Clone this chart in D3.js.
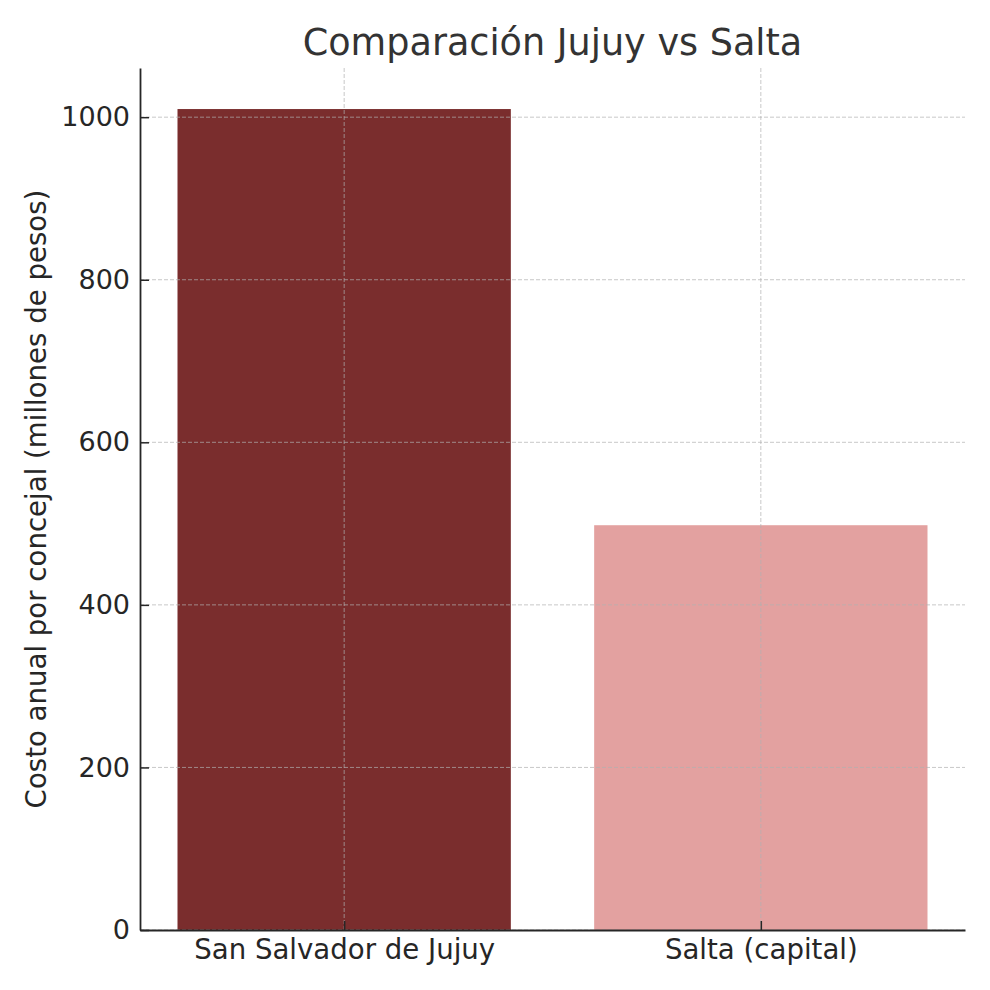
<!DOCTYPE html>
<html>
<head>
<meta charset="utf-8">
<script src="https://cdn.jsdelivr.net/npm/d3@7/dist/d3.min.js"></script>
<style>
  body { margin: 0; background: #fff; }
  svg { font-family: "DejaVu Sans", sans-serif; }
</style>
</head>
<body>
<svg id="chart" width="990" height="990"></svg>
<script>
var categories = ['San Salvador de Jujuy', 'Salta (capital)'];
var values = [1010, 498];
var colors = ['#7a2d2d', '#e3a1a0'];
var yTicks = [0, 200, 400, 600, 800, 1000];

var margin = {top: 68, right: 25, bottom: 60, left: 140};
var width = 990 - margin.left - margin.right;
var height = 990 - margin.top - margin.bottom;

var svg = d3.select('#chart');
var g = svg.append('g').attr('transform', 'translate(' + margin.left + ',' + margin.top + ')');

// matplotlib-like: bar width 0.8, 5% margins
var x = d3.scaleLinear().domain([-0.49, 1.49]).range([0, width]);
var y = d3.scaleLinear().domain([0, d3.max(values) * 1.05]).range([height, 0]);

// bars
g.selectAll('rect.bar')
  .data(values)
  .enter().append('rect')
  .attr('class', 'bar')
  .attr('x', function(d, i){ return x(i - 0.4); })
  .attr('width', function(d, i){ return x(i + 0.4) - x(i - 0.4); })
  .attr('y', function(d){ return y(d); })
  .attr('height', function(d){ return height - y(d); })
  .attr('fill', function(d, i){ return colors[i]; });

// grid on top of bars
g.selectAll('line.hgrid')
  .data(yTicks)
  .enter().append('line')
  .attr('class', 'hgrid')
  .attr('x1', 0).attr('x2', width)
  .attr('y1', function(d){ return y(d); })
  .attr('y2', function(d){ return y(d); })
  .attr('stroke', '#b0b0b0')
  .attr('stroke-opacity', 0.7)
  .attr('stroke-dasharray', '4,2')
  .attr('stroke-width', 1);

g.selectAll('line.vgrid')
  .data(categories)
  .enter().append('line')
  .attr('class', 'vgrid')
  .attr('x1', function(d, i){ return x(i); })
  .attr('x2', function(d, i){ return x(i); })
  .attr('y1', 0).attr('y2', height)
  .attr('stroke', '#b0b0b0')
  .attr('stroke-opacity', 0.7)
  .attr('stroke-dasharray', '4,2')
  .attr('stroke-width', 1);

// axes
var yAxis = d3.axisLeft(y).tickValues(yTicks).tickFormat(d3.format('d'))
  .tickSizeInner(-9).tickSizeOuter(0).tickPadding(10);
var xAxis = d3.axisBottom(x).tickValues([0, 1])
  .tickFormat(function(d){ return categories[d]; })
  .tickSizeInner(-9).tickSizeOuter(0).tickPadding(9);

var ya = g.append('g').call(yAxis);
var xa = g.append('g').attr('transform', 'translate(0,' + height + ')').call(xAxis);

[ya, xa].forEach(function(a){
  a.attr('font-size', null).attr('font-family', null);
  a.select('.domain').attr('stroke', '#262626').attr('stroke-width', 1.8);
  a.selectAll('.tick line').attr('stroke', '#262626').attr('stroke-width', 1.5);
  a.selectAll('.tick text').attr('fill', '#262626').style('font-size', '27px')
    .style('font-family', '"DejaVu Sans", sans-serif');
});
xa.selectAll('.tick text').style('font-size', '27.6px');

// title
svg.append('text')
  .attr('x', margin.left + width / 2)
  .attr('y', 55)
  .attr('text-anchor', 'middle')
  .attr('fill', '#333')
  .style('font-size', '36.6px')
  .text('Comparación Jujuy vs Salta');

// y label
svg.append('text')
  .attr('transform', 'translate(46,' + (margin.top + height / 2) + ') rotate(-90)')
  .attr('text-anchor', 'middle')
  .attr('fill', '#262626')
  .style('font-size', '27.6px')
  .text('Costo anual por concejal (millones de pesos)');
</script>
</body>
</html>
